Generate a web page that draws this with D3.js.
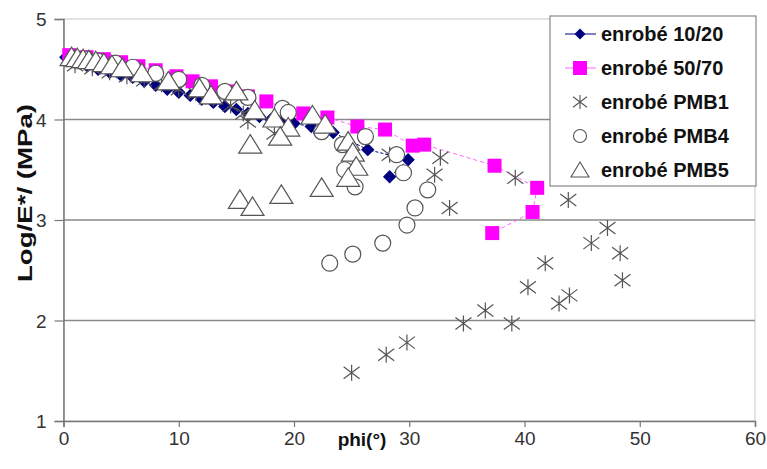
<!DOCTYPE html>
<html><head><meta charset="utf-8">
<script src="https://cdn.jsdelivr.net/npm/d3@7"></script>
<style>
html,body{margin:0;padding:0;background:#fff;}
text{font-family:"Liberation Sans",Arial,sans-serif;}
</style></head>
<body><svg id="chart" width="767" height="469"></svg>
<script>
// ---- data ----
const seriesNames = ["enrobé 10/20","enrobé 50/70","enrobé PMB1","enrobé PMB4","enrobé PMB5"];
const xTicks = [0,10,20,30,40,50,60];
const yTicks = [1,2,3,4,5];

const phi1020 = [0.2,1,2,3,4,5,6,7,8,9,10,11,12,13,14,15,16,17,18,19,20,21.5,23.4,26.4,29.9,28.3];
const log1020 = [4.62,4.57,4.54,4.50,4.47,4.44,4.42,4.38,4.34,4.30,4.27,4.24,4.20,4.17,4.13,4.10,4.06,4.03,4.00,3.98,3.96,3.93,3.87,3.70,3.60,3.43];

const phi5070 = [0.5,2,3.5,5,6.5,8,9.8,11.2,12.8,14.4,16,17.6,20.8,22.9,25.5,27.9,30.3,31.3,37.4,41.1,40.7,37.2];
const log5070 = [4.64,4.62,4.60,4.57,4.53,4.49,4.43,4.38,4.33,4.28,4.23,4.18,4.06,4.02,3.93,3.90,3.74,3.75,3.54,3.32,3.08,2.87];

const phiPMB1 = [1,2.5,4,5.5,7,8.5,10,11.5,13,14.5,15.6,16,18.3,28.3,32.7,32.2,33.5,39.2,43.8,47.2,48.3,48.5,45.8,41.8,40.3,43.9,43.0,36.6,38.9,34.7,29.8,28.0,25.0];
const logPMB1 = [4.54,4.51,4.47,4.43,4.39,4.35,4.30,4.26,4.21,4.14,4.06,3.98,3.86,3.65,3.62,3.45,3.12,3.42,3.20,2.92,2.67,2.40,2.77,2.57,2.33,2.25,2.17,2.10,1.97,1.97,1.78,1.66,1.48];

const phiPMB4 = [1,2,3,4.5,6,8,10,12,14,16,19,19.5,22.4,24.2,26.2,28.9,29.5,31.6,30.5,29.8,27.7,25.1,23.1,24.4,25.3];
const logPMB4 = [4.61,4.60,4.58,4.56,4.52,4.46,4.40,4.34,4.28,4.22,4.11,4.07,3.88,3.75,3.83,3.65,3.47,3.30,3.12,2.95,2.77,2.66,2.57,3.50,3.33];

const phiPMB5 = [0.7,1.2,1.7,2.2,2.8,3.5,4.2,5.1,6.8,9.1,11.8,12.8,15.0,16.6,18.3,19.5,18.8,16.2,21.6,22.7,24.7,25.1,25.4,24.7,15.3,16.4,18.9,22.4];
const logPMB5 = [4.62,4.61,4.60,4.59,4.58,4.56,4.54,4.51,4.46,4.38,4.31,4.24,4.28,4.09,4.01,3.92,3.83,3.75,4.04,3.95,3.78,3.67,3.53,3.42,3.20,3.13,3.25,3.32];

// ---- layout ----
const svg = d3.select("#chart");
const L = 63.5, R = 755, T = 19, B = 421;
const x = d3.scaleLinear().domain([0,60]).range([L,R]);
const y = d3.scaleLinear().domain([1,5]).range([B,T]);

// plot border (light)
svg.append("rect").attr("x",L).attr("y",T).attr("width",R-L).attr("height",B-T)
  .attr("fill","none").attr("stroke","#c8c8c8").attr("stroke-width",1);

// gridlines
svg.append("g").selectAll("line").data(yTicks.filter(v=>v>1 && v<5)).join("line")
  .attr("x1",L).attr("x2",R).attr("y1",d=>y(d)).attr("y2",d=>y(d))
  .attr("stroke","#8a8a8a").attr("stroke-width",1.5);

// axes
const xAxis = svg.append("g").attr("transform",`translate(0,${B})`)
  .call(d3.axisBottom(x).tickValues(xTicks).tickSize(6).tickPadding(5).tickFormat(d3.format("d")));
const yAxis = svg.append("g").attr("transform",`translate(${L},0)`)
  .call(d3.axisLeft(y).tickValues(yTicks).tickSize(9).tickPadding(8).tickFormat(d3.format("d")));
[xAxis,yAxis].forEach(a=>{
  a.select(".domain").attr("stroke","#777").attr("stroke-width",1.5);
  a.selectAll(".tick line").attr("stroke","#777").attr("stroke-width",1.2);
  a.selectAll(".tick text").attr("fill","#333").style("font-size","19px")
   .style("font-family","'Liberation Sans',Arial,sans-serif");
});
yAxis.selectAll(".tick text").attr("dy","0.35em");

// axis titles
svg.append("text").attr("x",362).attr("y",446).attr("text-anchor","middle")
  .style("font-size","19px").style("font-weight","bold").attr("fill","#111").text("phi(°)");
svg.append("text").attr("transform","translate(32,193) rotate(-90)").attr("text-anchor","middle")
  .attr("textLength",178).attr("lengthAdjust","spacingAndGlyphs")
  .style("font-size","20px").style("font-weight","bold").attr("fill","#111").text("Log/E*/ (MPa)");

// helpers
const zip = (a,b)=>a.map((v,i)=>[v,b[i]]);
const asteriskPath = (r)=>`M${-r},${-r*0.75}L${r},${r*0.75}M${r},${-r*0.75}L${-r},${r*0.75}M0,${-r}L0,${r}`;

const plot = svg.append("g");
const line = d3.line().x(d=>x(d[0])).y(d=>y(d[1]));

// 10/20
const d1020 = zip(phi1020,log1020);
plot.append("path").datum(d1020).attr("d",line).attr("fill","none")
  .attr("stroke","#000080").attr("stroke-width",1).attr("stroke-dasharray","3,2");
plot.append("g").selectAll("path").data(d1020).join("path")
  .attr("d",d3.symbol(d3.symbolSquare,90)())
  .attr("transform",d=>`translate(${x(d[0])},${y(d[1])}) rotate(45)`)
  .attr("fill","#000080");

// 50/70
const d5070 = zip(phi5070,log5070);
plot.append("path").datum(d5070).attr("d",line).attr("fill","none")
  .attr("stroke","#ff66ff").attr("stroke-width",1).attr("stroke-dasharray","4,3");
plot.append("g").selectAll("rect").data(d5070).join("rect")
  .attr("x",d=>x(d[0])-7).attr("y",d=>y(d[1])-7).attr("width",14).attr("height",14)
  .attr("fill","#ff00ff");

// PMB1 asterisks
plot.append("g").selectAll("path").data(zip(phiPMB1,logPMB1)).join("path")
  .attr("transform",d=>`translate(${x(d[0])},${y(d[1])})`)
  .attr("d",asteriskPath(8)).attr("stroke","#555").attr("stroke-width",1.2).attr("fill","none");

// PMB4 circles
plot.append("g").selectAll("circle").data(zip(phiPMB4,logPMB4)).join("circle")
  .attr("cx",d=>x(d[0])).attr("cy",d=>y(d[1])).attr("r",8)
  .attr("fill","#fff").attr("stroke","#555").attr("stroke-width",1.2);

// PMB5 triangles
plot.append("g").selectAll("path").data(zip(phiPMB5,logPMB5)).join("path")
  .attr("transform",d=>`translate(${x(d[0])},${y(d[1])})`)
  .attr("d","M0,-10L11.5,8.5L-11.5,8.5Z")
  .attr("fill","#fff").attr("stroke","#555").attr("stroke-width",1.2);

// legend
const lg = svg.append("g");
lg.append("rect").attr("x",550).attr("y",16).attr("width",206).attr("height",170)
  .attr("fill","#fff").attr("stroke","#888").attr("stroke-width",1.2);
const ly = i=>34+i*34;
seriesNames.forEach((n,i)=>{
  lg.append("text").attr("x",601).attr("y",ly(i)).attr("dy","0.36em")
    .style("font-size","20px").style("font-weight","bold").attr("fill","#111").text(n);
});
lg.append("line").attr("x1",565).attr("x2",596).attr("y1",ly(0)).attr("y2",ly(0)).attr("stroke","#000080").attr("stroke-width",1);
lg.append("path").attr("d",d3.symbol(d3.symbolSquare,60)()).attr("transform",`translate(580,${ly(0)}) rotate(45)`).attr("fill","#000080");
lg.append("line").attr("x1",565).attr("x2",596).attr("y1",ly(1)).attr("y2",ly(1)).attr("stroke","#ff66ff").attr("stroke-width",1);
lg.append("rect").attr("x",573).attr("y",ly(1)-7).attr("width",14).attr("height",14).attr("fill","#ff00ff");
lg.append("path").attr("transform",`translate(580,${ly(2)})`).attr("d",asteriskPath(7)).attr("stroke","#555").attr("stroke-width",1.1).attr("fill","none");
lg.append("circle").attr("cx",580).attr("cy",ly(3)).attr("r",6.5).attr("fill","#fff").attr("stroke","#555").attr("stroke-width",1.1);
lg.append("path").attr("transform",`translate(580,${ly(4)})`).attr("d","M0,-8L9,7L-9,7Z").attr("fill","#fff").attr("stroke","#555").attr("stroke-width",1.1);
</script></body></html>
